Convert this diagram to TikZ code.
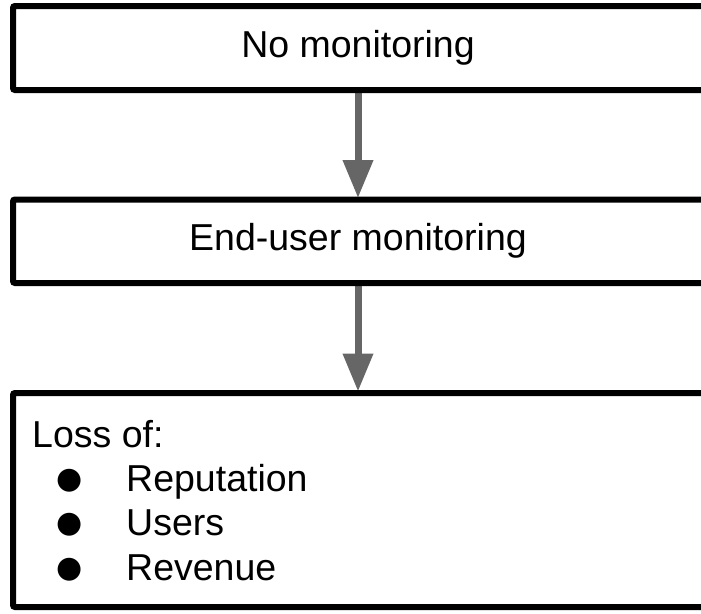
\documentclass[tikz,border=0pt]{standalone}
\usepackage{fontspec}
\setmainfont{Liberation Sans}
\newfontfamily\symfont{DejaVu Sans}
\usetikzlibrary{arrows.meta}
\pgfdeclarelayer{background}
\pgfsetlayers{background,main}
\begin{document}
\begin{tikzpicture}[x=1pt,y=-1pt,
  stagebox/.style={draw=black, line width=6pt, rounded corners=2pt,
    outer sep=0pt, inner sep=0pt, minimum width=707pt},
  flowarrow/.style={draw=black!60, line width=7pt,
    -{Triangle[length=38pt,width=29pt]}},
  bigtext/.style={font=\fontsize{37.5}{45}\selectfont, inner sep=0pt},
  bulletmark/.style={font=\fontsize{30}{36}\symfont, inner sep=0pt}]
\useasboundingbox (0,0) rectangle (701,613);
\clip (0,0) rectangle (701,613);
\node[stagebox, minimum height=84pt] (nomon) at (366.5,48) {};
\node[bigtext] (nomontext) at (358,48) {No monitoring};
\node[stagebox, minimum height=83.5pt] (endmon) at (366.5,241.25) {};
\node[bigtext] (endmontext) at (358,241.25) {End-user monitoring};
\node[stagebox, minimum height=214pt] (loss) at (366.5,500) {};
\node[bigtext, anchor=base west] (losstitle) at (32,447.5) {Loss of:};
\node[bulletmark, anchor=base] (b1) at (70,488.7) {●};
\node[bulletmark, anchor=base] (b2) at (70,532.8) {●};
\node[bulletmark, anchor=base] (b3) at (70,577) {●};
\node[bigtext, anchor=base west] (rep) at (126,491.7) {Reputation};
\node[bigtext, anchor=base west] (users) at (126,535.8) {Users};
\node[bigtext, anchor=base west] (rev) at (126,580) {Revenue};
\begin{pgfonlayer}{background}
\fill[white] (0,0) rectangle (701,613);
\draw[flowarrow] (nomontext.center |- nomon.south) -- ([yshift=1.5pt]nomontext.center |- endmon.north);
\draw[flowarrow] (endmontext.center |- endmon.south) -- ([yshift=1.5pt]endmontext.center |- loss.north);
\end{pgfonlayer}
\end{tikzpicture}
\end{document}
